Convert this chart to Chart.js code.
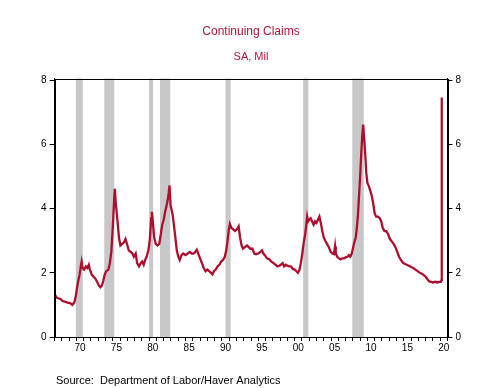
<!DOCTYPE html>
<html>
<head>
<meta charset="utf-8">
<script src="https://cdn.jsdelivr.net/npm/chart.js@4"></script>
<style>
  body { margin: 0; background: #fff; }
  #wrap { width: 503px; height: 388px; }
</style>
</head>
<body>
<div id="wrap"><canvas id="claimsChart" width="503" height="388"></canvas></div>
<script>
// continuing claims, SA, millions
const dates = [
  1967.02, 1967.15, 1967.35, 1967.6, 1967.85, 1968.1, 1968.4, 1968.7, 1968.95, 1969.2,
  1969.45, 1969.6, 1969.75, 1969.9, 1970.1, 1970.3, 1970.45, 1970.6, 1970.72, 1970.85,
  1971.05, 1971.3, 1971.5, 1971.7, 1971.85, 1972.1, 1972.35, 1972.6, 1972.85, 1973.1,
  1973.3, 1973.5, 1973.7, 1973.9, 1974.1, 1974.4, 1974.6, 1974.8, 1975.0, 1975.15,
  1975.28, 1975.4, 1975.55, 1975.7, 1975.85, 1976.05, 1976.3, 1976.55, 1976.75, 1976.95,
  1977.2, 1977.45, 1977.7, 1977.9, 1978.15, 1978.35, 1978.6, 1978.85, 1979.05, 1979.25,
  1979.45, 1979.65, 1979.9, 1980.1, 1980.28, 1980.38, 1980.5, 1980.7, 1980.9, 1981.15,
  1981.4, 1981.6, 1981.8, 1982.0, 1982.2, 1982.45, 1982.65, 1982.8, 1982.95, 1983.2,
  1983.4, 1983.6, 1983.8, 1984.0, 1984.2, 1984.45, 1984.7, 1985.0, 1985.3, 1985.6,
  1985.85, 1986.1, 1986.35, 1986.55, 1986.75, 1987.0, 1987.25, 1987.5, 1987.75, 1988.0,
  1988.25, 1988.5, 1988.7, 1988.9, 1989.15, 1989.4, 1989.65, 1989.9, 1990.15, 1990.4,
  1990.6, 1990.8, 1990.95, 1991.1, 1991.3, 1991.55, 1991.8, 1992.05, 1992.3, 1992.5,
  1992.7, 1992.9, 1993.15, 1993.45, 1993.7, 1993.9, 1994.2, 1994.45, 1994.7, 1995.0,
  1995.3, 1995.5, 1995.7, 1995.9, 1996.2, 1996.5, 1996.8, 1997.1, 1997.4, 1997.65,
  1997.9, 1998.1, 1998.35, 1998.55, 1998.8, 1999.0, 1999.25, 1999.5, 1999.75, 2000.0,
  2000.25, 2000.45, 2000.65, 2000.85, 2001.05, 2001.25, 2001.45, 2001.6, 2001.72, 2001.85,
  2002.0, 2002.2, 2002.4, 2002.6, 2002.8, 2003.0, 2003.2, 2003.4, 2003.6, 2003.8,
  2004.0, 2004.2, 2004.45, 2004.7, 2004.95, 2005.2, 2005.4, 2005.55, 2005.65, 2005.85,
  2006.1, 2006.3, 2006.55, 2006.8, 2007.0, 2007.25, 2007.45, 2007.65, 2007.85, 2008.0,
  2008.2, 2008.4, 2008.55, 2008.7, 2008.85, 2009.0, 2009.15, 2009.3, 2009.42, 2009.55,
  2009.7, 2009.85, 2010.0, 2010.2, 2010.4, 2010.6, 2010.8, 2011.0, 2011.2, 2011.45,
  2011.7, 2011.9, 2012.1, 2012.35, 2012.6, 2012.85, 2013.1, 2013.35, 2013.6, 2013.85,
  2014.1, 2014.35, 2014.6, 2014.85, 2015.1, 2015.4, 2015.7, 2016.0, 2016.3, 2016.6,
  2016.9, 2017.2, 2017.5, 2017.75, 2018.0, 2018.25, 2018.5, 2018.75, 2019.0, 2019.3,
  2019.6, 2019.9, 2020.1, 2020.19, 2020.21, 2020.23
];
const claims = [
  1.25, 1.28, 1.22, 1.2, 1.18, 1.12, 1.1, 1.08, 1.06, 1.05,
  1.0, 1.04, 1.1, 1.25, 1.55, 1.8, 1.95, 2.2, 2.35, 2.15,
  2.1, 2.2, 2.15, 2.25, 2.1, 1.95, 1.88, 1.82, 1.72, 1.6,
  1.55, 1.6, 1.75, 1.95, 2.05, 2.1, 2.3, 2.65, 3.4, 4.1,
  4.62, 4.2, 3.85, 3.5, 3.1, 2.85, 2.9, 2.95, 3.05, 2.9,
  2.7, 2.65, 2.6, 2.5, 2.6, 2.3, 2.2, 2.3, 2.35, 2.25,
  2.4, 2.5, 2.7, 3.05, 3.7, 3.9, 3.6, 3.1, 2.9, 2.85,
  2.9, 3.2, 3.5, 3.65, 3.9, 4.15, 4.4, 4.72, 4.1, 3.85,
  3.5, 3.1, 2.7, 2.5, 2.4, 2.55, 2.6, 2.55, 2.6, 2.65,
  2.6, 2.6, 2.65, 2.72, 2.6, 2.45, 2.3, 2.15, 2.05, 2.1,
  2.05, 2.0, 1.95, 2.05, 2.1, 2.2, 2.25, 2.35, 2.4, 2.5,
  2.7, 3.05, 3.35, 3.52, 3.4, 3.35, 3.3, 3.35, 3.45, 3.1,
  2.85, 2.75, 2.8, 2.85, 2.8, 2.75, 2.75, 2.6, 2.58, 2.6,
  2.65, 2.7, 2.6, 2.55, 2.45, 2.42, 2.35, 2.3, 2.25, 2.2,
  2.22, 2.25, 2.3, 2.2, 2.25, 2.22, 2.2, 2.2, 2.12, 2.1,
  2.05, 2.0, 2.08, 2.3, 2.6, 2.95, 3.2, 3.5, 3.75, 3.6,
  3.65, 3.7, 3.6, 3.5, 3.6, 3.55, 3.65, 3.75, 3.55, 3.3,
  3.1, 3.0, 2.9, 2.8, 2.65, 2.6, 2.58, 2.83, 2.6, 2.5,
  2.45, 2.42, 2.45, 2.45, 2.48, 2.5, 2.55, 2.5, 2.6, 2.75,
  2.95, 3.1, 3.4, 3.8, 4.4, 5.0, 5.7, 6.3, 6.62, 6.2,
  5.7, 5.1, 4.8, 4.7, 4.55, 4.4, 4.15, 3.85, 3.75, 3.75,
  3.7, 3.6, 3.4, 3.3, 3.3, 3.2, 3.05, 2.98, 2.9, 2.8,
  2.65, 2.5, 2.4, 2.32, 2.28, 2.25, 2.22, 2.18, 2.15, 2.1,
  2.05, 2.0, 1.97, 1.93, 1.88, 1.8, 1.73, 1.72, 1.7, 1.72,
  1.7, 1.72, 1.72, 1.78, 3.03, 7.46
];

// NBER recessions (decimal years)
const recStart = [1969.92, 1973.83, 1980.0, 1981.5, 1990.5, 2001.17, 2007.92];
const recEnd   = [1970.88, 1975.2, 1980.55, 1982.9, 1991.2, 2001.88, 2009.5];

const yearTicks = [];
for (let y = 1967; y <= 2021; y++) yearTicks.push(y);
const labelYears = [1970, 1975, 1980, 1985, 1990, 1995, 2000, 2005, 2010, 2015, 2020];
const valueTicks = [0, 2, 4, 6, 8];

const RED = '#AE0E2E';
const TITLE_RED = '#B8143C';
Chart.defaults.font.family = "'Liberation Sans', Arial, sans-serif";
Chart.defaults.color = '#000';

// shaded recessions behind the line, box frame and source note on top
const extras = {
  id: 'extras',
  beforeDatasetsDraw(chart) {
    const { ctx, chartArea: a, scales: { x } } = chart;
    ctx.save();
    ctx.fillStyle = '#C8C8C8';
    for (let i = 0; i < recStart.length; i++) {
      const x0 = x.getPixelForValue(recStart[i]);
      const x1 = x.getPixelForValue(recEnd[i]);
      ctx.fillRect(x0, a.top, x1 - x0, a.bottom - a.top);
    }
    ctx.restore();
  },
  afterDraw(chart) {
    const { ctx, chartArea: a } = chart;
    ctx.save();
    ctx.strokeStyle = '#000';
    ctx.lineWidth = 1;
    ctx.strokeRect(Math.round(a.left) + 0.5, Math.round(a.top) + 0.5,
      Math.round(a.right - a.left), Math.round(a.bottom - a.top));
    ctx.fillStyle = '#000';
    ctx.font = "11px 'Liberation Sans', Arial, sans-serif";
    ctx.textBaseline = 'middle';
    ctx.fillText('Source:  Department of Labor/Haver Analytics', 56, 381);
    ctx.restore();
  }
};

const yAxis = (pos) => ({
  type: 'linear',
  position: pos,
  min: 0,
  max: 8.05,
  afterBuildTicks: (axis) => { axis.ticks = valueTicks.map(v => ({ value: v })); },
  grid: { drawOnChartArea: false, drawTicks: true, tickLength: 5, tickColor: '#000' },
  border: { display: true, color: '#000' },
  ticks: { font: { size: 10 }, padding: 3, color: '#000' }
});

new Chart(document.getElementById('claimsChart'), {
  type: 'line',
  data: {
    datasets: [{
      label: 'Continuing Claims',
      data: dates.map((d, i) => ({ x: d, y: claims[i] })),
      borderColor: RED,
      borderWidth: 2.3,
      pointRadius: 0,
      tension: 0,
      fill: false
    }]
  },
  options: {
    responsive: false,
    animation: false,
    layout: { padding: { left: 38, right: 39, top: 0, bottom: 33 } },
    plugins: {
      legend: { display: false },
      tooltip: { enabled: false },
      title: {
        display: true,
        text: 'Continuing Claims',
        color: TITLE_RED,
        font: { size: 12, weight: 'normal' },
        padding: { top: 24, bottom: 8 }
      },
      subtitle: {
        display: true,
        text: 'SA, Mil',
        color: TITLE_RED,
        font: { size: 11, weight: 'normal' },
        padding: { top: 4, bottom: 15 }
      }
    },
    scales: {
      x: {
        type: 'linear',
        position: 'bottom',
        min: 1967,
        max: 2021,
        afterBuildTicks: (axis) => {
          const t = yearTicks.concat(labelYears.map(y => y + 0.5)).sort((a, b) => a - b);
          axis.ticks = t.map(v => ({ value: v }));
        },
        grid: {
          drawOnChartArea: false,
          drawTicks: true,
          tickLength: 4,
          tickColor: (ctx) => (ctx.tick && Number.isInteger(ctx.tick.value)) ? '#000' : 'rgba(0,0,0,0)'
        },
        border: { display: true, color: '#000' },
        ticks: {
          autoSkip: false,
          maxRotation: 0,
          padding: 1,
          font: { size: 10 },
          color: '#000',
          callback: (v) => Number.isInteger(v) ? '' : String(Math.floor(v) % 100).padStart(2, '0')
        }
      },
      y: yAxis('left'),
      y2: yAxis('right')
    }
  },
  plugins: [extras]
});
</script>
</body>
</html>
